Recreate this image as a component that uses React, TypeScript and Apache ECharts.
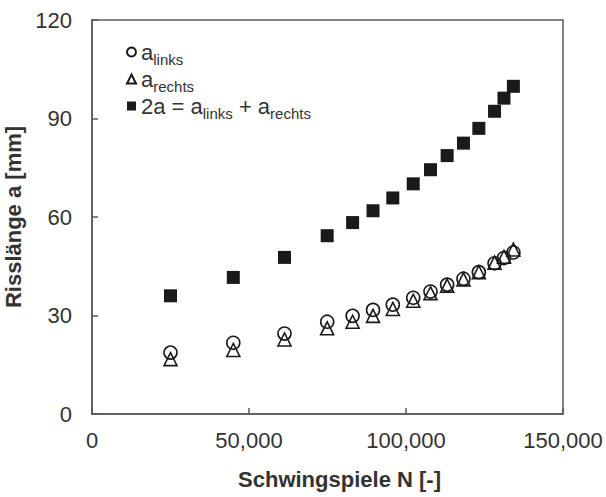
import React, { useEffect, useRef } from "react";
import * as echarts from "echarts";

const cycles = [25000, 45000, 61300, 74900, 83000, 89500, 95800, 102300, 107800, 113100, 118300, 123200, 128200, 131200, 134200];
const aLinks = [18.7, 21.7, 24.5, 28.1, 29.9, 31.7, 33.3, 35.4, 37.3, 39.4, 41.2, 43.2, 45.9, 47.5, 49.2];
const aRechts = [16.7, 19.5, 22.7, 26.1, 28.1, 29.9, 32.0, 34.5, 36.8, 39.1, 41.0, 43.2, 46.1, 47.9, 50.1];
const twoA = [36.0, 41.6, 47.7, 54.3, 58.3, 61.9, 65.8, 70.1, 74.4, 78.7, 82.5, 87.0, 92.2, 96.2, 99.8];

const yTicks = [0, 30, 60, 90, 120];
const xTicks = [0, 50000, 100000, 150000];

const seriesNames = ["links", "rechts", "sum"];

const FONT = "Liberation Sans, Arial, Helvetica, sans-serif";
const AXIS_COLOR = "#595959";
const TEXT_COLOR = "#333333";
const MARK = "#1a1a1a";

const pair = (ys: number[]) => cycles.map((x, i) => [x, ys[i]]);

export default function App() {
  const ref = useRef<HTMLDivElement>(null);
  useEffect(() => {
    if (!ref.current) return;
    const chart = echarts.init(ref.current, undefined, { renderer: "svg" });
    const rich = {
      a: { fontSize: 22, fontFamily: FONT, color: TEXT_COLOR, lineHeight: 22, verticalAlign: "top" },
      s: { fontSize: 15, fontFamily: FONT, color: TEXT_COLOR, lineHeight: 12, verticalAlign: "top", padding: [11, 0, 0, 0] },
    };
    chart.setOption({
      animation: false,
      backgroundColor: "#ffffff",
      grid: {
        left: 92,
        right: 43,
        top: 20,
        bottom: 83,
        show: true,
        borderColor: AXIS_COLOR,
        borderWidth: 1.5,
        containLabel: false,
        outerBoundsMode: "none",
      },
      legend: {
        orient: "vertical",
        left: 121,
        top: 36,
        itemWidth: 9,
        itemHeight: 9,
        itemGap: 1,
        data: seriesNames,
        formatter: (name: string) => {
          if (name === "links") return "{a|a}{s|links}";
          if (name === "rechts") return "{a|a}{s|rechts}";
          return "{a|2a = a}{s|links}{a| + a}{s|rechts}";
        },
        textStyle: { rich, fontFamily: FONT, fontSize: 22, padding: [0, 0, 0, 0] },
      },
      xAxis: {
        type: "value",
        min: xTicks[0],
        max: xTicks[xTicks.length - 1],
        interval: 50000,
        name: "Schwingspiele N [-]",
        nameLocation: "middle",
        nameGap: 54,
        nameTextStyle: { fontFamily: FONT, fontSize: 22, fontWeight: "bold", color: TEXT_COLOR, padding: [0, 0, 0, 24] },
        axisLine: { show: true, lineStyle: { color: AXIS_COLOR, width: 1.5 } },
        axisTick: { show: true, inside: true, length: 6, lineStyle: { color: AXIS_COLOR, width: 1.5 } },
        axisLabel: {
          fontFamily: FONT,
          fontSize: 22,
          color: TEXT_COLOR,
          margin: 15,
          formatter: (v: number) => v.toLocaleString("en-US"),
        },
        splitLine: { show: false },
      },
      yAxis: {
        type: "value",
        min: yTicks[0],
        max: yTicks[yTicks.length - 1],
        interval: 30,
        name: "Risslänge a [mm]",
        nameLocation: "middle",
        nameGap: 58,
        nameTextStyle: { fontFamily: FONT, fontSize: 22, fontWeight: "bold", color: TEXT_COLOR },
        axisLine: { show: true, lineStyle: { color: AXIS_COLOR, width: 1.5 } },
        axisTick: { show: true, inside: true, length: 6, lineStyle: { color: AXIS_COLOR, width: 1.5 } },
        axisLabel: { fontFamily: FONT, fontSize: 22, color: TEXT_COLOR, margin: 20 },
        splitLine: { show: false },
      },
      series: [
        {
          name: seriesNames[0],
          type: "scatter",
          symbol: "circle",
          symbolSize: 13,
          data: pair(aLinks),
          itemStyle: { color: "rgba(255,255,255,0)", borderColor: MARK, borderWidth: 1.6, opacity: 1 },
          z: 3,
        },
        {
          name: seriesNames[1],
          type: "scatter",
          symbol: "triangle",
          symbolSize: 13,
          data: pair(aRechts),
          itemStyle: { color: "rgba(255,255,255,0)", borderColor: MARK, borderWidth: 1.6, opacity: 1 },
          z: 2,
        },
        {
          name: seriesNames[2],
          type: "scatter",
          symbol: "rect",
          symbolSize: 13,
          data: pair(twoA),
          itemStyle: { color: MARK, opacity: 1 },
          z: 4,
        },
      ],
    });
    return () => chart.dispose();
  }, []);
  return <div ref={ref} style={{ width: 606, height: 497, position: "absolute", left: 0, top: 0 }} />;
}
